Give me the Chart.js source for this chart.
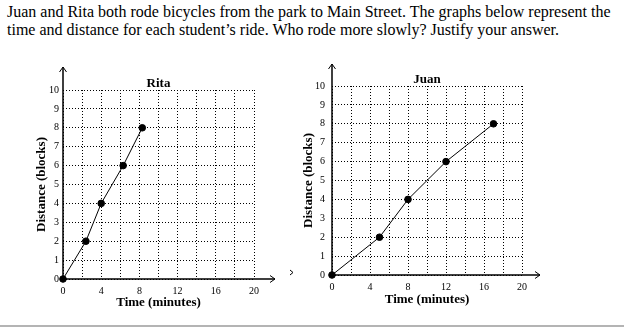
<!DOCTYPE html>
<html>
<head>
<meta charset="utf-8">
<script src="https://cdn.jsdelivr.net/npm/chart.js@4/dist/chart.umd.min.js"></script>
<style>
  body { margin: 0; background: #fff; width: 624px; height: 328px; overflow: hidden; position: relative; }
  .question { position: absolute; left: 7px; top: 3px; font: 16px "Liberation Serif", "Times New Roman", serif; line-height: 18px; color: #000; }
  .box { position: absolute; top: 60px; height: 258px; }
  .rule { position: absolute; left: 0; top: 325px; width: 624px; height: 2px; background: #b4b4b4; }
</style>
</head>
<body>
<div class="question">Juan and Rita both rode bicycles from the park to Main Street. The graphs below represent the<br>time and distance for each student’s ride. Who rode more slowly? Justify your answer.</div>
<div class="box" style="left:0; width:300px;"><canvas id="ritaChart"></canvas></div>
<div class="box" style="left:300px; width:310px;"><canvas id="juanChart"></canvas></div>
<div class="rule"></div>
<script>
// data
const ritaTime = [0, 2.4, 4, 6.3, 8.3];
const ritaDistance = [0, 2, 4, 6, 8];
const juanTime = [0, 5, 8, 12, 17];
const juanDistance = [0, 2, 4, 6, 8];
const xTickLabels = [0, 4, 8, 12, 16, 20];
const yTickLabels = [0, 1, 2, 3, 4, 5, 6, 7, 8, 9, 10];

const serif = '"Liberation Serif", "Times New Roman", serif';

// arrow heads on the axes
const axisArrows = {
  id: 'axisArrows',
  afterDraw(chart, args, opts) {
    const { ctx, scales: { x, y } } = chart;
    const x0 = x.getPixelForValue(0);
    const y0 = y.getPixelForValue(0);
    const topY = y.getPixelForValue(10) - opts.up;
    const rightX = x.getPixelForValue(20) + opts.right;
    ctx.save();
    ctx.strokeStyle = '#000';
    ctx.lineWidth = 1.5;
    ctx.beginPath();
    ctx.moveTo(x0, y0); ctx.lineTo(x0, topY);
    ctx.moveTo(x0, y0); ctx.lineTo(rightX, y0);
    ctx.stroke();
    ctx.lineWidth = 1;
    ctx.beginPath();
    ctx.moveTo(x0 - 3.5, topY + 5); ctx.lineTo(x0, topY); ctx.lineTo(x0 + 3.5, topY + 5);
    ctx.moveTo(rightX - 5, y0 - 3.5); ctx.lineTo(rightX, y0); ctx.lineTo(rightX - 5, y0 + 3.5);
    if (opts.stray) {
      const sx = rightX + opts.stray;
      ctx.moveTo(sx - 3, y0 - 9); ctx.lineTo(sx, y0 - 6.5); ctx.lineTo(sx - 3, y0 - 4);
    }
    ctx.stroke();
    ctx.restore();
  }
};

function makeChart(id, name, times, dists, lay) {
  new Chart(document.getElementById(id), {
    type: 'scatter',
    data: {
      datasets: [{
        label: name,
        data: times.map((t, i) => ({ x: t, y: dists[i] })),
        showLine: true,
        borderColor: '#000',
        borderWidth: 1,
        backgroundColor: '#000',
        pointRadius: 3.3,
        pointBackgroundColor: '#000',
        clip: false
      }]
    },
    options: {
      responsive: true,
      maintainAspectRatio: false,
      animation: false,
      layout: { padding: lay.padding },
      plugins: {
        legend: { display: false },
        tooltip: { enabled: false },
        title: {
          display: true,
          text: name,
          fullSize: false,
          color: '#000',
          font: { family: serif, size: 13, weight: 'bold', lineHeight: 1 },
          padding: { top: 0, bottom: lay.titleGap }
        },
        axisArrows: lay.arrows
      },
      scales: {
        x: {
          type: 'linear',
          min: 0, max: 20,
          grid: { color: '#000', lineWidth: 1, drawTicks: false },
          border: { display: false, dash: [1, 2] },
          ticks: {
            stepSize: 2,
            padding: 6,
            color: '#000',
            font: { family: serif, size: 10 },
            callback: v => xTickLabels.includes(v) ? String(v) : ''
          },
          title: {
            display: true,
            text: 'Time (minutes)',
            color: '#000',
            font: { family: serif, size: 13, weight: 'bold', lineHeight: 1.2 },
            padding: 0
          },
          afterFit: s => { s.height = lay.xHeight; }
        },
        y: {
          type: 'linear',
          min: 0, max: 10,
          grid: { color: '#000', lineWidth: 1, drawTicks: false },
          border: { display: false, dash: [1, 2] },
          ticks: {
            stepSize: 1,
            padding: lay.yPad,
            color: '#000',
            font: { family: serif, size: 10 },
            callback: v => yTickLabels.includes(v) ? String(v) : ''
          },
          title: {
            display: true,
            text: 'Distance (blocks)',
            color: '#000',
            font: { family: serif, size: 13, weight: 'bold', lineHeight: 1.2 },
            padding: 0
          },
          afterFit: s => { s.width = lay.yWidth; }
        }
      }
    },
    plugins: [axisArrows]
  });
}

makeChart('ritaChart', 'Rita', ritaTime, ritaDistance, {
  padding: { left: 34, right: 46, top: 17, bottom: 8 },
  titleGap: 0, xHeight: 31, yWidth: 29, yPad: 4,
  arrows: { up: 23, right: 21, stray: 18 }
});
makeChart('juanChart', 'Juan', juanTime, juanDistance, {
  padding: { left: 1, right: 88, top: 13, bottom: 11 },
  titleGap: 0, xHeight: 32, yWidth: 31, yPad: 7,
  arrows: { up: 22, right: 18 }
});
</script>
</body>
</html>
